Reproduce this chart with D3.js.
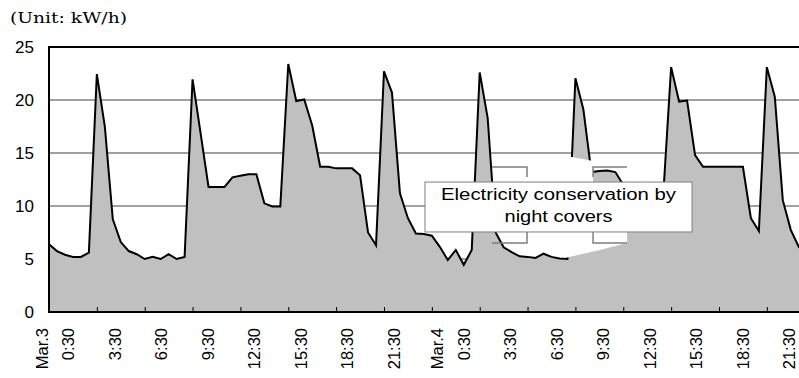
<!DOCTYPE html>
<html><head><meta charset="utf-8">
<script src="https://cdn.jsdelivr.net/npm/d3@7"></script>
<style>
html,body{margin:0;padding:0;background:#fff;}
svg{display:block;}
</style></head>
<body>
<svg id="chart" width="799" height="378"></svg>
<script>
// ---- data (half-hourly readings, kW/h) ----
const values = [
  6.4, 5.75, 5.4, 5.2, 5.2, 5.6, 22.45, 17.5, 8.75, 6.6, 5.75, 5.45,
  5.0, 5.2, 5.0, 5.45, 5.0, 5.2, 21.95, 16.9, 11.8, 11.8, 11.8, 12.7,
  12.85, 13.0, 13.0, 10.25, 9.95, 9.95, 23.4, 19.9, 20.05, 17.6, 13.7, 13.7,
  13.55, 13.55, 13.55, 12.9, 7.5, 6.3, 22.7, 20.7, 11.2, 8.85, 7.4, 7.35,
  7.2, 6.15, 4.9, 5.85, 4.45, 5.85, 22.6, 18.3, 7.5, 6.1, 5.65, 5.25,
  5.2, 5.1, 5.5, 5.2, 5.05, 5.0, 22.05, 19.1, 13.2, 13.3, 13.35, 13.2,
  12.0, 11.0, 10.5, 10.5, 10.6, 10.9, 23.1, 19.85, 19.95, 14.8, 13.7, 13.7,
  13.7, 13.7, 13.7, 13.7, 8.85, 7.65, 23.1, 20.3, 10.55, 7.75, 6.15, 5.6
];
const yTicks = [0, 5, 10, 15, 20, 25];
const dayLabels = ["Mar.3", "Mar.4"];
const timeLabels = ["0:30", "3:30", "6:30", "9:30", "12:30", "15:30", "18:30", "21:30"];
const unitLabel = "(Unit: kW/h)";
const noteLines = ["Electricity conservation by", "night covers"];

// annotation geometry in data units (index, value)
const noteBox = {i0: 47.14, i1: 80.62, v0: 12.26, v1: 7.55};
const noteBaselines = [10.57, 8.52];
const blob = [[55.79,13.68],[57.80,14.15],[59.93,14.53],[62.81,14.81],[65.57,14.62],[68.21,14.25],
  [68.21,7.55],[72.47,7.55],[72.47,6.51],[69.08,5.85],[64.95,5.14],[62.19,5.71],[59.18,5.47],
  [57.16,6.32],[57.03,7.55],[55.79,7.55]];
const brackets = [
  [[55.54,13.68],[59.93,13.68],[59.93,12.74]],
  [[68.21,12.74],[68.21,13.68],[72.47,13.68]],
  [[55.54,6.51],[59.93,6.51],[59.93,7.55]],
  [[68.21,7.55],[68.21,6.51],[72.47,6.51]]
];

// ---- scales ----
const svg = d3.select("#chart");
const x = d3.scaleLinear().domain([0, 96]).range([49, 49 + 96 * 7.976]);
const y = d3.scaleLinear().domain([0, 25]).range([312, 47]);
const font = "'Liberation Sans', Arial, sans-serif";

svg.append("rect").attr("width", 799).attr("height", 378).attr("fill", "#fff");

// gridlines
svg.append("g").selectAll("line").data(yTicks.filter(d => d > 0 && d < 25)).join("line")
  .attr("x1", x(0)).attr("x2", x(96))
  .attr("y1", d => y(d)).attr("y2", d => y(d))
  .attr("stroke", "#808080").attr("stroke-width", 1.3);

// area
const area = d3.area().x((d, i) => x(i)).y0(y(0)).y1(d => y(d));
const line = d3.line().x((d, i) => x(i)).y(d => y(d));
svg.append("path").datum(values).attr("d", area).attr("fill", "#c0c0c0");
svg.append("path").datum(values).attr("d", line).attr("fill", "none")
  .attr("stroke", "#000").attr("stroke-width", 2).attr("stroke-linejoin", "miter");

// frame: top border, left axis, bottom axis
svg.append("line").attr("x1", x(0)).attr("x2", x(96)).attr("y1", y(25)).attr("y2", y(25))
  .attr("stroke", "#000").attr("stroke-width", 2);
svg.append("line").attr("x1", x(0)).attr("x2", x(0)).attr("y1", y(25) - 1).attr("y2", y(0) + 1)
  .attr("stroke", "#000").attr("stroke-width", 2);

// x tick marks (inside)
const xTicks = svg.append("g").attr("transform", `translate(0,${y(0)})`)
  .call(d3.axisBottom(x).tickValues(d3.range(0, 97, 6)).tickSize(-5).tickFormat(""));
xTicks.select(".domain").remove();
xTicks.selectAll("line").attr("stroke", "#000").attr("stroke-width", 1);
svg.append("line").attr("x1", x(0)).attr("x2", x(96)).attr("y1", y(0)).attr("y2", y(0))
  .attr("stroke", "#000").attr("stroke-width", 2);

// y labels
const yAxis = svg.append("g").attr("transform", `translate(${x(0)},0)`)
  .call(d3.axisLeft(y).tickValues(yTicks).tickSize(0).tickPadding(15));
yAxis.select(".domain").remove();
yAxis.selectAll("text").attr("font-family", font).attr("font-size", 17).attr("fill", "#000");

// x labels (rotated)
const labelPos = d3.range(16).map(k => k < 8 ? k : k + 0.5);
const lx = d3.scaleLinear().domain([0, 15.5]).range([68, 68 + 15.5 * 46.5]);
const xl = svg.append("g").attr("transform", `translate(0,${y(0)})`)
  .call(d3.axisBottom(lx).tickValues(labelPos).tickSize(0)
    .tickFormat((d, i) => timeLabels[i % 8]));
xl.select(".domain").remove();
xl.selectAll("text")
  .attr("font-family", font).attr("font-size", 16.5).attr("fill", "#000")
  .attr("text-anchor", "end").attr("x", 0).attr("y", 0).attr("dy", "0.35em")
  .attr("transform", "translate(0,16) rotate(-90)");
svg.append("g").selectAll("text").data(dayLabels).join("text")
  .attr("font-family", font).attr("font-size", 16.5).attr("fill", "#000")
  .attr("text-anchor", "end").attr("dy", "0.35em")
  .attr("transform", (d, i) => `translate(${lx(i * 8.5) - 26},${y(0) + 16}) rotate(-90)`)
  .text(d => d);

// unit label
svg.append("text").attr("x", 10).attr("y", 23)
  .attr("font-family", "'DejaVu Serif', serif").attr("font-size", 15)
  .attr("textLength", 117).attr("lengthAdjust", "spacingAndGlyphs")
  .text(unitLabel);

// annotation
svg.append("path").datum(blob)
  .attr("d", d3.line().x(d => x(d[0])).y(d => y(d[1])).curve(d3.curveLinearClosed))
  .attr("fill", "#fff").attr("stroke", "none");
svg.append("g").selectAll("path").data(brackets).join("path")
  .attr("d", d3.line().x(d => x(d[0])).y(d => y(d[1])))
  .attr("fill", "none").attr("stroke", "#7f7f7f").attr("stroke-width", 1.5);
svg.append("rect")
  .attr("x", x(noteBox.i0)).attr("y", y(noteBox.v0))
  .attr("width", x(noteBox.i1) - x(noteBox.i0)).attr("height", y(noteBox.v1) - y(noteBox.v0))
  .attr("fill", "#fff").attr("stroke", "#7f7f7f").attr("stroke-width", 1);
const cx = (x(noteBox.i0) + x(noteBox.i1)) / 2;
svg.append("g").selectAll("text").data(noteLines).join("text")
  .attr("x", cx).attr("y", (d, i) => y(noteBaselines[i]))
  .attr("text-anchor", "middle").attr("font-family", font).attr("font-size", 16)
  .attr("textLength", (d, i) => i === 0 ? 235 : 108).attr("lengthAdjust", "spacingAndGlyphs")
  .text(d => d);
</script>
</body></html>
